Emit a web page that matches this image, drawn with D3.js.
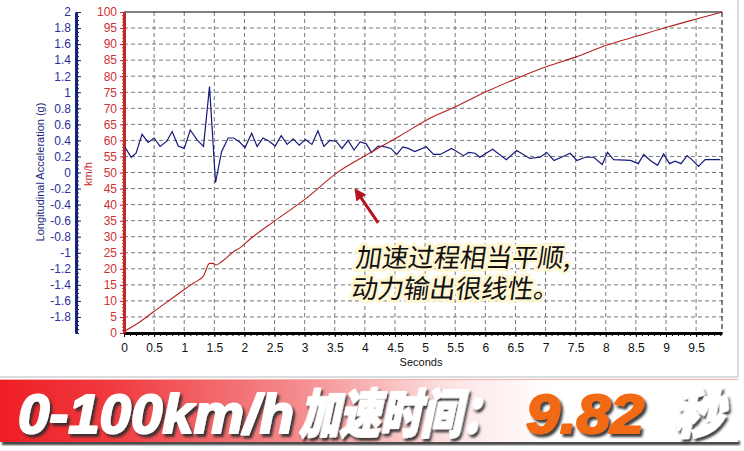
<!DOCTYPE html>
<html>
<head>
<meta charset="utf-8">
<script src="https://cdn.jsdelivr.net/npm/d3@7"></script>
<style>
  body { margin: 0; background: #fff; }
  svg { display: block; }
  .tick text { font-family: "Liberation Sans", Arial, sans-serif; font-size: 12px; }
</style>
</head>
<body>
<div id="chart"></div>
<script>
// time (s) and longitudinal acceleration (g)
const accTime = [0.02,0.12,0.20,0.30,0.40,0.50,0.60,0.71,0.80,0.90,1.00,1.10,1.21,1.32,1.42,1.52,1.62,1.73,1.82,1.92,
  2.01,2.12,2.21,2.31,2.41,2.51,2.61,2.71,2.81,2.91,3.01,3.12,3.22,3.32,3.42,3.52,3.62,3.72,3.82,3.92,
  4.02,4.11,4.22,4.34,4.43,4.53,4.63,4.72,4.83,5.02,5.14,5.25,5.44,5.64,5.72,5.83,5.91,6.12,6.35,6.52,
  6.74,6.91,7.02,7.14,7.29,7.41,7.52,7.66,7.80,7.94,8.03,8.13,8.41,8.54,8.63,8.74,8.86,8.96,9.06,9.15,
  9.25,9.35,9.43,9.54,9.65,9.90];
const accG = [0.31,0.19,0.24,0.475,0.375,0.43,0.325,0.39,0.51,0.33,0.30,0.53,0.41,0.325,1.07,-0.125,0.26,0.43,0.43,0.38,
  0.31,0.49,0.325,0.43,0.39,0.33,0.46,0.35,0.42,0.34,0.41,0.35,0.52,0.325,0.40,0.39,0.30,0.40,0.28,0.38,
  0.36,0.25,0.33,0.32,0.30,0.225,0.32,0.30,0.26,0.32,0.225,0.225,0.30,0.21,0.25,0.24,0.19,0.29,0.16,0.275,
  0.175,0.19,0.25,0.15,0.20,0.24,0.15,0.19,0.19,0.10,0.25,0.16,0.15,0.11,0.225,0.15,0.09,0.23,0.11,0.14,
  0.11,0.21,0.16,0.075,0.16,0.16];

// time (s) and speed (km/h)
const spdTime = [0,0.21,0.49,0.99,1.15,1.32,1.42,1.48,1.53,1.62,1.82,1.93,2.09,2.51,3.03,3.53,4.03,4.58,5.08,5.53,
  6.02,6.52,7.02,7.52,8.02,8.52,9.04,9.54,9.93];
const spdKmh = [0.5,2.8,6.6,13.4,15.5,17.8,21.7,21.7,21.2,22.2,25.3,26.6,29.2,35.0,42.0,49.8,55.5,61.4,66.9,70.7,
  75.2,79.3,83.0,86.1,89.7,92.5,95.4,98.0,100];

// tick labels
const xTicks = d3.range(0, 10, 0.5);
const speedTicks = d3.range(0, 101, 5);
const accTicks = d3.range(2, -1.9, -0.2).map(d => +d.toFixed(1));

// annotation arrow, in data units (s, km/h)
const arrowTail = [4.22, 34.3];
const arrowTip = [3.85, 44.5];

const W = 744, H = 451;
const mLeft = 124, mRight = 722, mTop = 12, mBottom = 333;

const svg = d3.select("#chart").append("svg")
  .attr("width", W).attr("height", H);

const x = d3.scaleLinear().domain([0, 9.93]).range([mLeft, mRight]);
const ySpd = d3.scaleLinear().domain([0, 100]).range([mBottom, mTop]);
const yAcc = d3.scaleLinear().domain([-2, 2]).range([mBottom, mTop]);

// outer frame
svg.append("rect")
  .attr("x", -1).attr("y", -1).attr("width", 739).attr("height", 378)
  .attr("fill", "#fff").attr("stroke", "#b8b8b8");

// grid
const grid = svg.append("g").attr("stroke", "#777").attr("stroke-dasharray", "4,3");
grid.selectAll("line.v").data(xTicks.slice(1)).enter().append("line")
  .attr("x1", d => x(d)).attr("x2", d => x(d))
  .attr("y1", mTop).attr("y2", mBottom);
grid.selectAll("line.h").data(speedTicks.slice(1, -1)).enter().append("line")
  .attr("x1", mLeft).attr("x2", mRight)
  .attr("y1", d => ySpd(d)).attr("y2", d => ySpd(d));

// top and right border
svg.append("line").attr("x1", mLeft).attr("x2", mRight).attr("y1", mTop).attr("y2", mTop)
  .attr("stroke", "#000");
svg.append("line").attr("x1", mRight).attr("x2", mRight).attr("y1", mTop).attr("y2", mBottom)
  .attr("stroke", "#000").attr("stroke-dasharray", "5,3");

// x axis minor + major
svg.append("g")
  .attr("transform", "translate(0," + mBottom + ")")
  .call(d3.axisBottom(x).tickValues(d3.range(0, 9.95, 0.1)).tickSize(3).tickFormat(""))
  .call(g => g.select(".domain").remove());
const xAxis = svg.append("g")
  .attr("transform", "translate(0," + mBottom + ")")
  .call(d3.axisBottom(x).tickValues(xTicks).tickSize(4).tickSizeOuter(0).tickPadding(6)
    .tickFormat(d => String(+d.toFixed(1))));
xAxis.select(".domain").attr("stroke", "#000").attr("stroke-width", 3);
xAxis.selectAll(".tick text").attr("fill", "#111");

svg.append("text")
  .attr("x", 421).attr("y", 366).attr("text-anchor", "middle")
  .attr("font-family", "Liberation Sans, Arial, sans-serif").attr("font-size", 11)
  .attr("fill", "#111").text("Seconds");

// speed axis (red)
svg.append("g")
  .attr("transform", "translate(" + mLeft + ",0)")
  .call(d3.axisLeft(ySpd).tickValues(d3.range(0, 101, 1)).tickSize(2).tickFormat(""))
  .call(g => g.select(".domain").remove())
  .selectAll("line").attr("stroke", "#c62828");
const spdAxis = svg.append("g")
  .attr("transform", "translate(" + mLeft + ",0)")
  .call(d3.axisLeft(ySpd).tickValues(speedTicks).tickSize(4).tickSizeOuter(0).tickPadding(3));
spdAxis.select(".domain").attr("stroke", "#c62828").attr("stroke-width", 3);
spdAxis.selectAll(".tick line").attr("stroke", "#c62828");
spdAxis.selectAll(".tick text").attr("fill", "#d03030");

svg.append("text")
  .attr("transform", "translate(92,174) rotate(-90)")
  .attr("text-anchor", "middle")
  .attr("font-family", "Liberation Sans, Arial, sans-serif").attr("font-size", 11)
  .attr("fill", "#c62828").text("km/h");

// acceleration axis (blue)
const accX = 76;
svg.append("g")
  .attr("transform", "translate(" + accX + ",0)")
  .call(d3.axisLeft(yAcc).tickValues(d3.range(-2, 2.001, 0.05)).tickSize(-3).tickFormat(""))
  .call(g => g.select(".domain").remove())
  .selectAll("line").attr("stroke", "#16217a");
const accAxis = svg.append("g")
  .attr("transform", "translate(" + accX + ",0)")
  .call(d3.axisLeft(yAcc).tickValues(accTicks).tickSize(-5).tickSizeOuter(0).tickPadding(5)
    .tickFormat(d => String(d)));
accAxis.select(".domain").attr("stroke", "#16217a").attr("stroke-width", 3);
accAxis.selectAll(".tick line").attr("stroke", "#16217a");
accAxis.selectAll(".tick text").attr("fill", "#2a2f9a");

svg.append("text")
  .attr("transform", "translate(44,172) rotate(-90)")
  .attr("text-anchor", "middle")
  .attr("font-family", "Liberation Sans, Arial, sans-serif").attr("font-size", 11)
  .attr("fill", "#1c2580").text("Longitudinal Acceleration (g)");

// series
const accLine = d3.line().x((d, i) => x(accTime[i])).y(d => yAcc(d));
svg.append("path").datum(accG)
  .attr("d", accLine).attr("fill", "none")
  .attr("stroke", "#15197a").attr("stroke-width", 1.2);

const spdLine = d3.line().curve(d3.curveMonotoneX).x((d, i) => x(spdTime[i])).y(d => ySpd(d));
svg.append("path").datum(spdKmh)
  .attr("d", spdLine).attr("fill", "none")
  .attr("stroke", "#b3201f").attr("stroke-width", 1.1);

// arrow
const defs = svg.append("defs");
defs.append("marker").attr("id", "head")
  .attr("viewBox", "0 0 10 10").attr("refX", 8).attr("refY", 5)
  .attr("markerWidth", 4).attr("markerHeight", 4).attr("orient", "auto")
  .append("path").attr("d", "M0,0 L10,5 L0,10 z").attr("fill", "#b5161c");
svg.append("line")
  .attr("x1", x(arrowTail[0])).attr("y1", ySpd(arrowTail[1]))
  .attr("x2", x(arrowTip[0])).attr("y2", ySpd(arrowTip[1]))
  .attr("stroke", "#b5161c").attr("stroke-width", 3)
  .attr("marker-end", "url(#head)");

// annotation text
const note = svg.append("g").attr("transform", "translate(355,267) skewX(-8)");
["加速过程相当平顺,", "动力输出很线性。"].forEach((t, i) => {
  note.append("text")
    .attr("x", 0).attr("y", i * 31)
    .attr("font-family", "Noto Sans CJK SC, sans-serif").attr("font-size", 26)
    .attr("fill", "#111").attr("stroke", "#fff6d2").attr("stroke-width", 6)
    .attr("stroke-linejoin", "round").attr("paint-order", "stroke")
    .text(t);
});

// bottom banner
const grad = defs.append("linearGradient").attr("id", "bannerGrad")
  .attr("x1", "0%").attr("x2", "100%");
[[0, "#ee1f25"], [0.15, "#f03a3f"], [0.4, "#f48a8c"], [0.62, "#fde6e6"], [0.75, "#ffffff"], [1, "#ffffff"]]
  .forEach(s => grad.append("stop").attr("offset", s[0]).attr("stop-color", s[1]));
const blur = defs.append("filter").attr("id", "soft").attr("x", "-5%").attr("y", "-20%")
  .attr("width", "110%").attr("height", "140%");
blur.append("feGaussianBlur").attr("stdDeviation", 1.2);
const drop = defs.append("filter").attr("id", "drop").attr("x", "-5%").attr("y", "-10%")
  .attr("width", "115%").attr("height", "130%");
drop.append("feDropShadow").attr("dx", 2.5).attr("dy", 3).attr("stdDeviation", 1)
  .attr("flood-color", "#2e2e2e").attr("flood-opacity", 0.9);

svg.append("rect").attr("x", 2).attr("y", 441).attr("width", 738).attr("height", 4)
  .attr("fill", "#3a3a3a").attr("filter", "url(#soft)");
svg.append("rect").attr("x", 0).attr("y", 379).attr("width", 738).attr("height", 63)
  .attr("fill", "url(#bannerGrad)");
svg.append("line").attr("x1", 0).attr("x2", 738).attr("y1", 379.5).attr("y2", 379.5)
  .attr("stroke", "#f7b0b0").attr("stroke-width", 1);

const parts = [
  { t: "0-100km/h", x: 18, w: 276, fill: "#ffffff", cjk: false },
  { t: "加速时间：", x: 299, w: 203, fill: "#ffffff", cjk: true },
  { t: "9.82", x: 526, w: 118, fill: "#f26a12", cjk: false },
  { t: "秒", x: 674, w: 50, fill: "#ffffff", cjk: true }
];
const banner = svg.append("g");
parts.forEach(p => {
  const fam = p.cjk ? "Noto Sans CJK SC, sans-serif" : "Liberation Sans, Arial, sans-serif";
  banner.append("g")
    .attr("transform", "translate(" + p.x + ",433)" + (p.cjk ? " skewX(-12)" : ""))
    .attr("filter", "url(#drop)")
    .append("text")
    .attr("x", 0).attr("y", 0)
    .attr("font-family", fam).attr("font-weight", 900)
    .attr("font-style", p.cjk ? "normal" : "italic")
    .attr("font-size", p.cjk ? 52 : 56)
    .attr("textLength", p.w).attr("lengthAdjust", "spacingAndGlyphs")
    .attr("fill", p.fill)
    .attr("stroke", p.fill).attr("stroke-width", 2.2).attr("stroke-linejoin", "round")
    .text(p.t);
});
</script>
</body>
</html>
